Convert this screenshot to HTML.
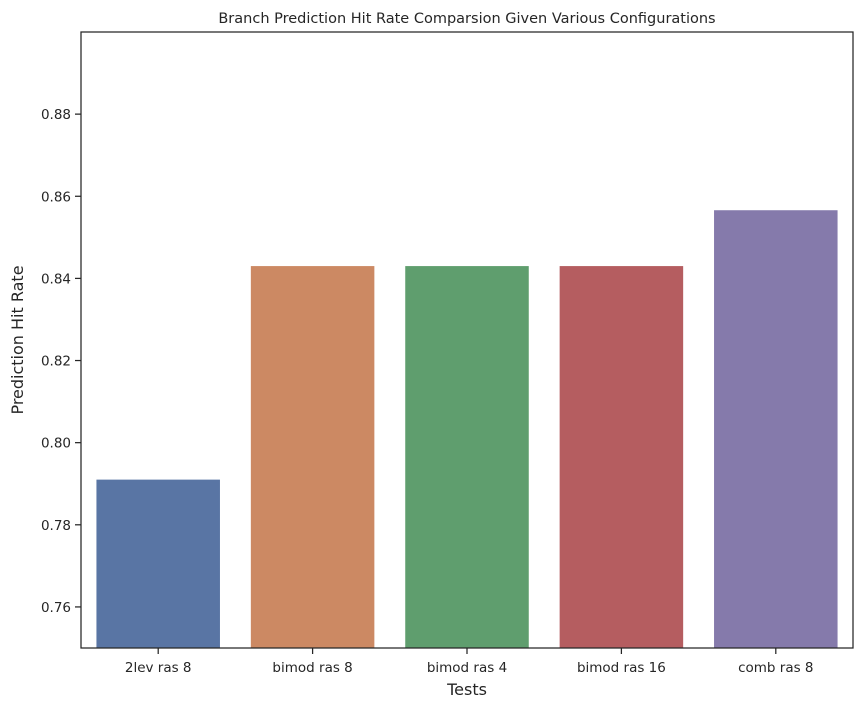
<!DOCTYPE html>
<html><head><meta charset="utf-8"><style>
body{margin:0;background:#fff;}
svg text{font-family:"DejaVu Sans","Liberation Sans",sans-serif;fill:#262626;}
</style></head><body>
<svg id="chart" width="865" height="710">
<text x="467" y="23" text-anchor="middle" font-size="14.5">Branch Prediction Hit Rate Comparsion Given Various Configurations</text>
<g id="bars"></g><g id="yticks"></g><g id="xticks"></g>
<rect x="81" y="32" width="772" height="616" fill="none" stroke="#262626" stroke-width="1.25"/>
<text x="467" y="695" text-anchor="middle" font-size="16">Tests</text>
<text transform="translate(23,340) rotate(-90)" text-anchor="middle" font-size="16">Prediction Hit Rate</text>
</svg>
<script>
const categories=["2lev ras 8","bimod ras 8","bimod ras 4","bimod ras 16","comb ras 8"];
const values=[0.791,0.843,0.843,0.843,0.8566];
const yTicks=[0.76,0.78,0.80,0.82,0.84,0.86,0.88];
const colors=["#5975a4","#cc8963","#5f9e6e","#b55d60","#857aab"];
const L=81,R=853,T=32,B=648,ymin=0.75,ymax=0.90;
const NS="http://www.w3.org/2000/svg";
const y=v=>B-(v-ymin)/(ymax-ymin)*(B-T);
const band=(R-L)/categories.length;
const xc=i=>L+band*(i+0.5);
const bw=band*0.8;
const gb=document.getElementById('bars'),gy=document.getElementById('yticks'),gx=document.getElementById('xticks');
values.forEach((v,i)=>{
 const r=document.createElementNS(NS,'rect');
 r.setAttribute('x',xc(i)-bw/2);r.setAttribute('y',y(v));
 r.setAttribute('width',bw);r.setAttribute('height',B-y(v));
 r.setAttribute('fill',colors[i]);
 
 
 gb.appendChild(r);
});
yTicks.forEach(t=>{
 const l=document.createElementNS(NS,'line');
 l.setAttribute('x1',L-6);l.setAttribute('x2',L);l.setAttribute('y1',y(t));l.setAttribute('y2',y(t));
 l.setAttribute('stroke','#262626');l.setAttribute('stroke-width','1.25');
 
 
 gy.appendChild(l);
 const tx=document.createElementNS(NS,'text');
 tx.setAttribute('x',L-10);tx.setAttribute('y',y(t)+5);tx.setAttribute('text-anchor','end');tx.setAttribute('font-size','13.5');
 tx.textContent=t.toFixed(2);
 
 
 gy.appendChild(tx);
});
categories.forEach((c,i)=>{
 const l=document.createElementNS(NS,'line');
 l.setAttribute('x1',xc(i));l.setAttribute('x2',xc(i));l.setAttribute('y1',B);l.setAttribute('y2',B+6);
 l.setAttribute('stroke','#262626');l.setAttribute('stroke-width','1.25');
 
 
 gx.appendChild(l);
 const tx=document.createElementNS(NS,'text');
 tx.setAttribute('x',xc(i));tx.setAttribute('y',B+24);tx.setAttribute('text-anchor','middle');tx.setAttribute('font-size','13.5');
 tx.textContent=c;
 
 
 gx.appendChild(tx);
});
</script>
</body></html>
